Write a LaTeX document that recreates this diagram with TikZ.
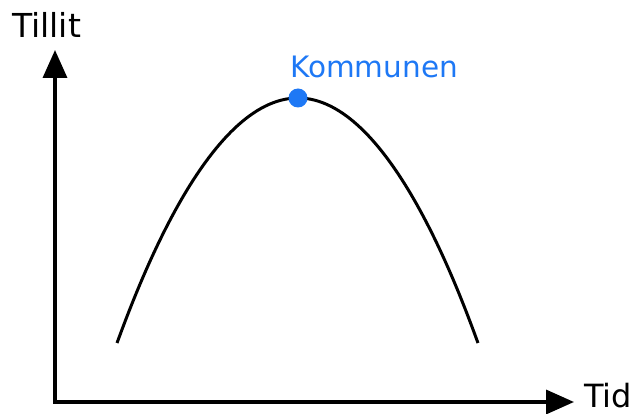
\documentclass[tikz,border=0pt]{standalone}
\usepackage{fontspec}
\setmainfont{DejaVu Sans}
\usepackage{tikz}
\usetikzlibrary{arrows.meta,positioning}
\definecolor{kommunblue}{HTML}{1E78F5}

\begin{document}
\begin{tikzpicture}[x=1pt,y=-1pt]
            \useasboundingbox (0,0) rectangle (641,414);
            % Axes
            \coordinate (origin) at (55,402);
            \coordinate (ytop) at (55,50);
            \coordinate (xend) at (574,402);
            \draw[{Triangle[length=28pt,width=24pt]}-{Triangle[length=28pt,width=24pt]},line width=3.5pt] (ytop) -- (origin) -- (xend);
            \node[anchor=base west,inner sep=0pt,font=\fontsize{33}{38}\selectfont] (tillit) at (12,38) {Tillit};
            \node[anchor=base west,inner sep=0pt,font=\fontsize{32}{38}\selectfont] (tid) at (584,408) {Tid};

            % Trust curve
            \coordinate (start) at (117,343);
            \coordinate (peak) at (298,98);
            \coordinate (stop) at (478,343);
            \draw[line width=3pt] (start) parabola bend (peak) (stop);

            % Peak marker
            \fill[kommunblue] (peak) circle (9.5pt);
            \node[anchor=base west,inner sep=0pt,kommunblue,font=\fontsize{29.5}{34}\selectfont] (kommunen) at (290,78) {Kommunen};
        \end{tikzpicture}
\end{document}
